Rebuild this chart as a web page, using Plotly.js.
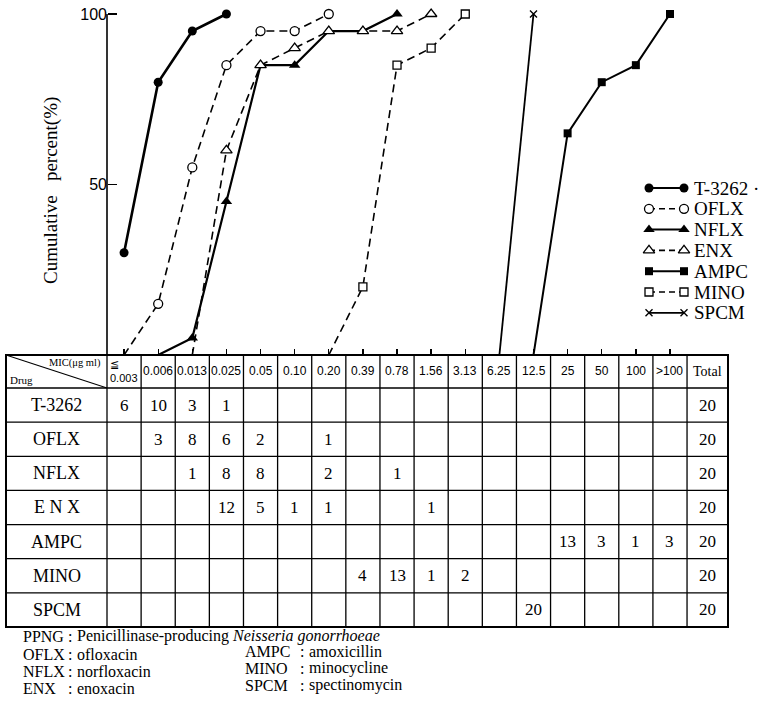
<!DOCTYPE html>
<html>
<head>
<meta charset="utf-8">
<script src="https://cdn.plot.ly/plotly-3.0.1.min.js"></script>
<style>
html,body{margin:0;padding:0;background:#fff;}
#chart{width:762px;height:705px;}
</style>
</head>
<body>
<div id="chart"></div>
<script>
// ---------------- DATA ----------------
const micCategories = ['≦0.003','0.006','0.013','0.025','0.05','0.10','0.20','0.39','0.78','1.56','3.13','6.25','12.5','25','50','100','>100'];
const micHeaderLabels = ['≦<br>0.003','0.006','0.013','0.025','0.05','0.10','0.20','0.39','0.78','1.56','3.13','6.25','12.5','25','50','100','>100'];
const totalHeader = 'Total';
const drugRowLabels = ['T-3262','OFLX','NFLX','E N X','AMPC','MINO','SPCM'];
const legendLabels = ['T-3262 ·','OFLX','NFLX','ENX','AMPC','MINO','SPCM'];

// MIC distribution counts (table); null = empty cell
const countT3262 = [6,10,3,1,null,null,null,null,null,null,null,null,null,null,null,null,null];
const countOFLX  = [null,3,8,6,2,null,1,null,null,null,null,null,null,null,null,null,null];
const countNFLX  = [null,null,1,8,8,null,2,null,1,null,null,null,null,null,null,null,null];
const countENX   = [null,null,null,12,5,1,1,null,null,1,null,null,null,null,null,null,null];
const countAMPC  = [null,null,null,null,null,null,null,null,null,null,null,null,null,13,3,1,3];
const countMINO  = [null,null,null,null,null,null,null,4,13,1,2,null,null,null,null,null,null];
const countSPCM  = [null,null,null,null,null,null,null,null,null,null,null,null,20,null,null,null,null];
const totals = [20,20,20,20,20,20,20];

// Cumulative percent (plot); null = not plotted
const cumT3262 = [30,80,95,100,null,null,null,null,null,null,null,null,null,null,null,null,null];
const cumOFLX  = [0,15,55,85,95,95,100,null,null,null,null,null,null,null,null,null,null];
const cumNFLX  = [null,0,5,45,85,85,95,95,100,null,null,null,null,null,null,null,null];
const cumENX   = [null,null,0,60,85,90,95,95,95,100,null,null,null,null,null,null,null];
const cumAMPC  = [null,null,null,null,null,null,null,null,null,null,null,null,0,65,80,85,100];
const cumMINO  = [null,null,null,null,null,null,0,20,85,90,100,null,null,null,null,null,null];
const cumSPCM  = [null,null,null,null,null,null,null,null,null,null,null,0,100,null,null,null,null];

const yTickVals = [50,100];
const yTitle = 'Cumulative\u00a0\u00a0\u00a0percent(%)';

const footLeftAbbr = ['OFLX','NFLX','ENX'];
const footLeftName = ['ofloxacin','norfloxacin','enoxacin'];
const footRightAbbr = ['AMPC','MINO','SPCM'];
const footRightName = ['amoxicillin','minocycline','spectinomycin'];
const footPPNGAbbr = 'PPNG';
const footPPNGText = 'Penicillinase-producing <i>Neisseria gonorrhoeae</i>';

// ---------------- LAYOUT CONSTANTS ----------------
const W = 762, H = 705;
const axisPx = 107, colW = 34.12;
const xOf = px => -0.5 + (px - axisPx) / colW;
const py = p => (H - p) / H;
const zeroPx = 355, hundredPx = 14;
const pxPerPct = (zeroPx - hundredPx) / 100;

const tableTop = 355, headerH = 33, rowH = 34.14;
const tableBottom = tableTop + headerH + rowH * drugRowLabels.length;
const tableLeft = xOf(6), tableRight = xOf(728);
const totalX = (16.5 + tableRight) / 2;
const drugX = (tableLeft - 0.5) / 2;

const serif = 'Liberation Serif';
const sans = 'Liberation Sans';
const fnt = (family, size) => ({family: family, size: size, color: 'black'});

const seriesY = [cumT3262, cumOFLX, cumNFLX, cumENX, cumAMPC, cumMINO, cumSPCM];
const seriesCounts = [countT3262, countOFLX, countNFLX, countENX, countAMPC, countMINO, countSPCM];
const styles = [
  {dash:'solid', width:2.6, marker:{symbol:'circle', size:9, color:'black'}},
  {dash:'8px,5px', width:1.6, marker:{symbol:'circle', size:9, color:'white', line:{color:'black', width:1.3}}},
  {dash:'solid', width:2.2, marker:{symbol:'triangle-up', size:10, color:'black'}},
  {dash:'8px,5px', width:1.6, marker:{symbol:'triangle-up', size:10, color:'white', line:{color:'black', width:1.3}}},
  {dash:'solid', width:2.0, marker:{symbol:'square', size:8, color:'black'}},
  {dash:'8px,5px', width:1.6, marker:{symbol:'square', size:8, color:'white', line:{color:'black', width:1.3}}},
  {dash:'solid', width:1.8, marker:{symbol:'x-thin-open', size:7, color:'black', line:{color:'black', width:1.4}}}
];

const traces = [];
seriesY.forEach((ys, i) => {
  const st = styles[i];
  traces.push({
    type:'scatter', mode:'lines+markers', x: micCategories, y: ys,
    xaxis:'x', yaxis:'y', connectgaps:false, cliponaxis:false, showlegend:false,
    line:{color:'black', width:st.width, dash:st.dash},
    marker:Object.assign({}, st.marker, {opacity: ys.map(v => v === 0 ? 0 : 1)}),
    hoverinfo:'skip'
  });
});
// legend samples (two markers joined by a line)
legendLabels.forEach((lab, i) => {
  const st = styles[i];
  traces.push({
    type:'scatter', mode:'lines+markers', x:[0,1], y:[i,i],
    xaxis:'x2', yaxis:'y2', cliponaxis:false, showlegend:false,
    line:{color:'black', width:Math.min(st.width,2), dash: st.dash === 'solid' ? 'solid' : '6px,4px'},
    marker:st.marker, hoverinfo:'skip'
  });
});

const shapes = [];
const annotations = [];
function note(o) {
  annotations.push(Object.assign({showarrow:false, xanchor:'center', yanchor:'middle', borderpad:0}, o));
}
// y axis line
shapes.push({type:'line', xref:'x', yref:'y', x0:-0.5, x1:-0.5, y0:0, y1:100, line:{color:'black', width:1.6}});

// table grid
const yTop = py(tableTop), yBot = py(tableBottom);
const innerW = 1.3, outerW = 2.0;
for (let r = 0; r < drugRowLabels.length; r++) {
  const p = tableTop + headerH + r * rowH;
  shapes.push({type:'line', xref:'x', yref:'paper', x0:tableLeft, x1:tableRight, y0:py(p), y1:py(p), line:{color:'black', width:innerW}});
}
for (let c = 0; c <= micCategories.length; c++) {
  shapes.push({type:'line', xref:'x', yref:'paper', x0:c-0.5, x1:c-0.5, y0:yTop, y1:yBot, line:{color:'black', width:innerW}});
}
shapes.push({type:'rect', xref:'x', yref:'paper', x0:tableLeft, x1:tableRight, y0:yBot, y1:yTop, line:{color:'black', width:outerW}});
// diagonal in header corner
shapes.push({type:'line', xref:'x', yref:'paper', x0:tableLeft, y0:yTop, x1:-0.5, y1:py(tableTop + headerH), line:{color:'black', width:1.1}});

// header texts
const headerY = py(tableTop + headerH / 2);
micHeaderLabels.forEach((lab, c) => {
  const first = lab.indexOf('<br>') >= 0;
  note({xref:'x', yref:'paper', x:c, y:headerY, text:lab, align:'left', font:fnt(sans, first ? 11 : 12)});
});
note({xref:'x', yref:'paper', x:totalX, y:headerY, text:totalHeader, font:fnt(serif, 14)});
note({xref:'x', yref:'paper', x:-0.5, xshift:-5, xanchor:'right', y:py(tableTop + 8), text:'MIC(μg ml)', font:fnt(serif, 10.5)});
note({xref:'x', yref:'paper', x:tableLeft, xshift:3, xanchor:'left', y:py(tableTop + 25), text:'Drug', font:fnt(serif, 11)});

// body texts
drugRowLabels.forEach((lab, r) => {
  const yc = py(tableTop + headerH + (r + 0.5) * rowH);
  note({xref:'x', yref:'paper', x:drugX, y:yc, text:lab, font:fnt(serif, 18)});
  seriesCounts[r].forEach((v, c) => {
    if (v !== null) note({xref:'x', yref:'paper', x:c, y:yc, text:String(v), font:fnt(serif, 17)});
  });
  note({xref:'x', yref:'paper', x:totalX, y:yc, text:String(totals[r]), font:fnt(serif, 17)});
});

// y title
note({xref:'paper', yref:'paper', x:51/W, y:py(191), text:yTitle, textangle:-90, font:fnt(serif, 19)});

// legend texts
legendLabels.forEach((lab, i) => {
  note({xref:'x2', yref:'y2', x:1, xshift:9, xanchor:'left', y:i, text:lab, font:fnt(serif, 19)});
});

// footnotes: abbreviation, colon, description
function footLine(xAbbr, xColon, yPx, abbr, desc) {
  note({xref:'paper', yref:'paper', x:xAbbr/W, xanchor:'left', y:py(yPx), text:abbr, font:fnt(serif, 16)});
  note({xref:'paper', yref:'paper', x:xColon/W, xanchor:'left', y:py(yPx), text:':', font:fnt(serif, 16)});
  note({xref:'paper', yref:'paper', x:(xColon + 9)/W, xanchor:'left', y:py(yPx), text:desc, font:fnt(serif, 16)});
}
footLine(22, 67, 636, footPPNGAbbr, footPPNGText);
footLeftAbbr.forEach((a, i) => footLine(22, 67, 654 + i * 17, a, footLeftName[i]));
footRightAbbr.forEach((a, i) => footLine(244, 299, 651 + i * 17, a, footRightName[i]));

const layout = {
  width:W, height:H,
  margin:{l:0, r:0, t:0, b:0, pad:0},
  paper_bgcolor:'white', plot_bgcolor:'rgba(0,0,0,0)',
  showlegend:false, hovermode:false,
  xaxis:{type:'category', categoryorder:'array', categoryarray:micCategories,
    range:[xOf(0), xOf(W)], domain:[0,1], anchor:'y',
    tickmode:'array', tickvals:micCategories, ticks:'inside', ticklen:6, tickwidth:1.3, tickcolor:'black',
    showticklabels:false, showline:false, showgrid:false, zeroline:false, fixedrange:true},
  yaxis:{range:[0, zeroPx / pxPerPct], domain:[py(zeroPx), 1], anchor:'free', position:axisPx / W,
    tickmode:'array', tickvals:yTickVals, ticks:'inside', ticklen:9, tickwidth:1.5, tickcolor:'black',
    tickfont:fnt(sans, 16),
    showline:false, showgrid:false, zeroline:false, fixedrange:true},
  xaxis2:{domain:[642/W, 691/W], range:[-0.2, 1.2], anchor:'y2', visible:false, fixedrange:true},
  yaxis2:{domain:[py(188 + 6.5 * 20.8), py(188 - 0.5 * 20.8)], range:[6.5, -0.5], anchor:'x2', visible:false, fixedrange:true},
  shapes:shapes,
  annotations:annotations
};

Plotly.newPlot('chart', traces, layout, {staticPlot:true, displayModeBar:false});
</script>
</body>
</html>
